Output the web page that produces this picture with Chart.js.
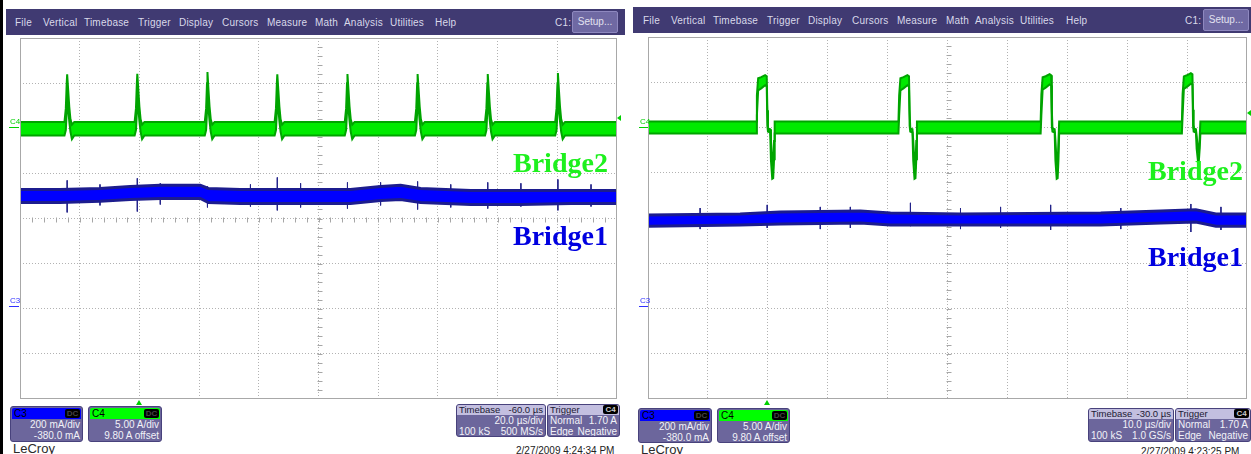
<!DOCTYPE html>
<html>
<head>
<meta charset="utf-8">
<script src="https://cdn.jsdelivr.net/npm/chart.js@4.4.1/dist/chart.umd.min.js"></script>
<style>
  html, body { margin: 0; padding: 0; background: #fff; }
  body { width: 1251px; height: 454px; position: relative; overflow: hidden;
         font-family: "Liberation Sans", Arial, sans-serif; }
  .abs { position: absolute; }
  .menubar { position: absolute; background: #403a72; height: 26px; }
  .menubar span { position: absolute; top: 1px; line-height: 26px; font-size: 10px;
                  color: #d9d9ea; white-space: nowrap; letter-spacing: 0.2px; }
  .setup { position: absolute; background: #6f69a3; border: 1px solid #8e88bf; border-radius: 2px;
           box-sizing: border-box; color: #e2e2f0; font-size: 10px; text-align: center; }
  .chbox, .tbox { position: absolute; background: #6c669c; border: 1px solid #48427c; border-radius: 3px;
                  box-sizing: border-box; overflow: hidden; font-size: 10px; color: #f2f2f8; }
  .chhead { height: 11px; position: relative; margin: 1px 1px 0 1px; border-radius: 2px 2px 0 0; }
  .chname { position: absolute; left: 2px; top: 0; line-height: 11px; color: #000; font-size: 10px; }
  .badge { position: absolute; right: 1px; top: 1px; width: 15px; height: 9px; background: #000;
           border-radius: 2px; color: #444; font-size: 8px; line-height: 9px; text-align: center; font-weight: bold; }
  .row { height: 11px; line-height: 11px; padding: 0 2px; white-space: nowrap; }
  .r { text-align: right; }
  .split { display: flex; justify-content: space-between; }
  .thead { display: flex; justify-content: space-between; background: #c3bfe0; color: #1c1a34;
           height: 10px; line-height: 10px; padding: 0 2px; position: relative; white-space: nowrap;
           font-size: 9.5px; }
  .bridge { position: absolute; font-family: "Liberation Serif", "Times New Roman", serif; font-weight: bold;
            font-size: 28px; line-height: 28px; white-space: nowrap; }
  .mk { position: absolute; font-size: 8px; line-height: 8px; }
  .tri-up { position: absolute; width: 0; height: 0; border-left: 3px solid transparent;
            border-right: 3px solid transparent; border-bottom: 5px solid #00d000; }
  .tri-left { position: absolute; width: 0; height: 0; border-top: 3px solid transparent;
              border-bottom: 3px solid transparent; border-right: 4px solid #00d000; }
  .foot { position: absolute; font-size: 10px; line-height: 10px; color: #222; white-space: nowrap; }
  .brand { position: absolute; font-size: 13px; line-height: 13px; color: #2a2a2a; }
</style>
</head>
<body>
<div class="abs" style="left:0;top:0;width:3px;height:454px;background:#000"></div>

<canvas id="scopeL" width="597" height="361" style="position:absolute;left:20px;top:38px"></canvas>
<canvas id="scopeR" width="599" height="362" style="position:absolute;left:648px;top:37px"></canvas>

<!-- channel tags on the left edge of each screen -->
<div class="mk" style="left:10px;top:118px;color:#00d000">C4</div>
<div class="abs" style="left:9px;top:127px;width:10px;height:1px;background:#00d000"></div>
<div class="mk" style="left:10px;top:297px;color:#3030ff">C3</div>
<div class="abs" style="left:9px;top:306px;width:10px;height:1px;background:#3030ff"></div>
<div class="mk" style="left:640px;top:118px;color:#00d000">C4</div>
<div class="abs" style="left:639px;top:127px;width:9px;height:1px;background:#00d000"></div>
<div class="mk" style="left:640px;top:297px;color:#3030ff">C3</div>
<div class="abs" style="left:639px;top:306px;width:9px;height:1px;background:#3030ff"></div>

<!-- trigger position / level markers -->
<div class="tri-up" style="left:136px;top:400px"></div>
<div class="tri-up" style="left:764px;top:400px"></div>
<div class="tri-left" style="left:617px;top:115px"></div>
<div class="tri-left" style="left:1247px;top:110px"></div>

<!-- trace names -->
<div class="bridge" style="left:513px;top:149px;color:#1ef01e">Bridge2</div>
<div class="bridge" style="left:513px;top:222px;color:#0000e0">Bridge1</div>
<div class="bridge" style="left:1148px;top:157px;color:#1ef01e">Bridge2</div>
<div class="bridge" style="left:1148px;top:243px;color:#0000e0">Bridge1</div>

<!-- left screen readouts -->
<div class="chbox" style="left:10px;top:406px;width:73px;height:36px">
  <div class="chhead" style="background:#0000ff"><span class="chname">C3</span><span class="badge">DC</span></div>
  <div class="row r">200 mA/div</div>
  <div class="row r">-380.0 mA</div>
</div>
<div class="chbox" style="left:88px;top:406px;width:74px;height:36px">
  <div class="chhead" style="background:#00ff00"><span class="chname">C4</span><span class="badge">DC</span></div>
  <div class="row r">5.00 A/div</div>
  <div class="row r">9.80 A offset</div>
</div>
<div class="tbox" style="left:456px;top:404px;width:90px;height:33px">
  <div class="thead"><span>Timebase</span><span>-60.0 µs</span></div>
  <div class="row r">20.0 µs/div</div>
  <div class="row split"><span>100 kS</span><span>500 MS/s</span></div>
</div>
<div class="tbox" style="left:547px;top:404px;width:73px;height:33px">
  <div class="thead"><span>Trigger</span><span class="badge" style="top:0;color:#ccc">C4</span></div>
  <div class="row split"><span>Normal</span><span>1.70 A</span></div>
  <div class="row split"><span>Edge</span><span>Negative</span></div>
</div>
<div class="brand" style="left:13px;top:442px">LeCroy</div>
<div class="foot" style="left:516px;top:446px">2/27/2009 4:24:34 PM</div>

<!-- right screen readouts -->
<div class="chbox" style="left:638px;top:408px;width:74px;height:35px">
  <div class="chhead" style="background:#0000ff"><span class="chname">C3</span><span class="badge">DC</span></div>
  <div class="row r">200 mA/div</div>
  <div class="row r">-380.0 mA</div>
</div>
<div class="chbox" style="left:717px;top:408px;width:73px;height:35px">
  <div class="chhead" style="background:#00ff00"><span class="chname">C4</span><span class="badge">DC</span></div>
  <div class="row r">5.00 A/div</div>
  <div class="row r">9.80 A offset</div>
</div>
<div class="tbox" style="left:1088px;top:408px;width:86px;height:34px">
  <div class="thead"><span>Timebase</span><span>-30.0 µs</span></div>
  <div class="row r">10.0 µs/div</div>
  <div class="row split"><span>100 kS</span><span>1.0 GS/s</span></div>
</div>
<div class="tbox" style="left:1175px;top:408px;width:76px;height:34px">
  <div class="thead"><span>Trigger</span><span class="badge" style="top:0;color:#ccc">C4</span></div>
  <div class="row split"><span>Normal</span><span>1.70 A</span></div>
  <div class="row split"><span>Edge</span><span>Negative</span></div>
</div>
<div class="brand" style="left:641px;top:443px">LeCroy</div>
<div class="foot" style="left:1141px;top:447px">2/27/2009 4:23:25 PM</div>

<script>
// ---------------- Left capture: 20 µs/div, C4 in A (5 A/div), C3 in mA (200 mA/div) ----------------
const L_X_MAX = 200, L_X_STEP = 20;
const L_G_PULSE_T    = [15.8, 39.3, 62.8, 86.2, 109.7, 133.2, 156.7, 180.2];
const L_G_PULSE_PEAK = [5.97, 6.03, 6.22, 5.97, 6.0, 6.0, 6.0, 6.11];
const L_G_BASE_HI = 0.7, L_G_BASE_LO = -0.8;
// outline of one current spike: µs offset from the peak, upper / lower edge in A (null = that spike's peak)
const L_G_SHAPE_DT = [-0.9, -0.45, -0.15, 0, 0.35, 0.7, 1.1, 1.6, 2.4];
const L_G_SHAPE_HI = [0.7, 2.2, 5.0, null, 4.2, 2.4, 1.0, 0.4, 0.7];
const L_G_SHAPE_LO = [-0.8, -0.2, 1.8, 4.3, 2.2, 0.8, -0.4, -1.2, -0.8];

const L_B_T  = [0, 13.4, 26.8, 36.9, 47.0, 60.4, 63.1, 73.8, 94.0, 110.7, 120.8, 127.5, 134.2, 151.0, 167.8, 184.6, 200];
const L_B_HI = [529, 529, 533, 542, 547, 547, 533, 529, 529, 529, 542, 547, 533, 524, 524, 524, 524];
const L_B_LO = [471, 471, 476, 484, 489, 489, 471, 467, 467, 467, 480, 484, 471, 462, 462, 467, 467];
const L_B_SPIKE_T   = [15.8, 26.8, 39.3, 47.0, 62.8, 77.2, 86.2, 94.0, 109.7, 120.8, 133.2, 144.3, 156.7, 167.8, 180.2, 191.3];
const L_B_SPIKE_TOP = [569, 551, 578, 556, 542, 551, 582, 556, 560, 560, 564, 551, 560, 556, 573, 551];
const L_B_SPIKE_BOT = [427, 458, 431, 462, 449, 453, 436, 449, 444, 458, 440, 449, 444, 453, 436, 453];

// ---------------- Right capture: 10 µs/div ----------------
const R_X_MAX = 100, R_X_STEP = 10;
const R_G_PULSE_T   = [18.06, 41.81, 65.55, 89.13];
const R_G_PULSE_TOP = [5.78, 5.78, 5.89, 6.0];
const R_G_PULSE_DIP = [-5.67, -5.67, -5.67, -3.67];
const R_G_BASE_HI = 0.67, R_G_BASE_LO = -0.67;
// outline of one positive/negative pulse pair for a 5.78 A top and a -5.67 A dip
const R_G_SHAPE_DT = [-0.17, 0, 0.12, 0.33, 0.84, 1.5, 1.76, 1.87, 1.97, 2.34, 2.47, 2.68, 2.84, 2.98, 3.09];
const R_G_SHAPE_HI = [0.67, 0.67, 3.56, 5.44, 5.56, 5.78, 5.67, 1.9, -0.1, -0.2, -1.44, -4.0, -4.2, -1.5, 0.67];
const R_G_SHAPE_LO = [-0.67, -0.67, 1.33, 4.11, 4.33, 4.67, 4.56, 0.2, -0.45, -0.55, -3.67, -5.67, -5.6, -3.5, -0.67];
const R_G_REF_TOP = 5.78, R_G_REF_DIP = -5.67;

const R_B_T  = [0, 15.38, 22.07, 35.45, 40.47, 52.17, 75.58, 85.61, 91.46, 94.81, 100];
const R_B_HI = [413, 418, 427, 431, 422, 418, 422, 431, 436, 418, 418];
const R_B_LO = [364, 369, 373, 378, 369, 369, 369, 378, 382, 364, 364];
const R_B_SPIKE_T   = [8.70, 19.9, 28.76, 33.78, 43.81, 52.17, 58.86, 67.22, 78.93, 90.63, 95.65];
const R_B_SPIKE_TOP = [444, 458, 449, 449, 467, 444, 449, 458, 444, 462, 449];
const R_B_SPIKE_BOT = [351, 356, 351, 356, 364, 351, 356, 347, 351, 338, 347];

// vertical ranges: 8 divisions; C4 ground 2 div above centre, C3 ground 2 div below
const G_MIN = -30, G_MAX = 10, G_STEP = 5;
const B_MIN = -400, B_MAX = 1200;

const GREEN_FILL = '#00ea00', GREEN_EDGE = '#00a400';
const BLUE_FILL = '#0000ff', BLUE_EDGE = '#1c1c8e', BLUE_SPIKE = '#24248a';

function leftGreenOutline() {
  const pts = [{ x: 0, hi: L_G_BASE_HI, lo: L_G_BASE_LO }];
  L_G_PULSE_T.forEach((t0, k) => {
    L_G_SHAPE_DT.forEach((dt, i) => {
      const hi = L_G_SHAPE_HI[i] === null ? L_G_PULSE_PEAK[k] : L_G_SHAPE_HI[i];
      pts.push({ x: t0 + dt, hi: hi, lo: L_G_SHAPE_LO[i] });
    });
  });
  pts.push({ x: L_X_MAX, hi: L_G_BASE_HI, lo: L_G_BASE_LO });
  return pts;
}

function rightGreenOutline() {
  const scale = (v, k) => v > 1 ? v * R_G_PULSE_TOP[k] / R_G_REF_TOP
                        : v < -1 ? v * R_G_PULSE_DIP[k] / R_G_REF_DIP : v;
  const pts = [{ x: 0, hi: R_G_BASE_HI, lo: R_G_BASE_LO }];
  R_G_PULSE_T.forEach((t0, k) => {
    R_G_SHAPE_DT.forEach((dt, i) => {
      pts.push({ x: t0 + dt, hi: scale(R_G_SHAPE_HI[i], k), lo: scale(R_G_SHAPE_LO[i], k) });
    });
  });
  pts.push({ x: R_X_MAX, hi: R_G_BASE_HI, lo: R_G_BASE_LO });
  return pts;
}

function zipBand(t, hi, lo) { return t.map((x, i) => ({ x: x, hi: hi[i], lo: lo[i] })); }

function bandDatasets(pts, fill, edge, axis, order, width) {
  const common = { yAxisID: axis, borderColor: edge, borderWidth: width, pointRadius: 0,
                   tension: 0, order: order, borderJoinStyle: 'miter' };
  return [
    Object.assign({ data: pts.map(p => ({ x: p.x, y: p.hi })), fill: false }, common),
    Object.assign({ data: pts.map(p => ({ x: p.x, y: p.lo })), fill: '-1', backgroundColor: fill }, common)
  ];
}

function spikeDataset(t, top, bot, color, axis, order) {
  const data = [];
  t.forEach((x, i) => { data.push({ x: x, y: top[i] }, { x: x, y: bot[i] }, { x: x, y: null }); });
  return { data: data, yAxisID: axis, borderColor: color, borderWidth: 1, pointRadius: 0,
           spanGaps: false, fill: false, order: order };
}

// dotted graticule frame, plus the minor ticks on the two centre lines
const scopeGraticule = {
  id: 'scopeGraticule',
  beforeDatasetsDraw(chart) {
    const { ctx, scales } = chart;
    const xs = scales.x, ys = scales.yA;
    const cx = Math.round(xs.getPixelForValue((xs.min + xs.max) / 2)) + 0.5;
    const cy = Math.round(ys.getPixelForValue((ys.min + ys.max) / 2)) + 0.5;
    const xStep = xs.options.ticks.stepSize / 5, yStep = ys.options.ticks.stepSize / 5;
    ctx.save();
    ctx.strokeStyle = '#a6a6a6';
    ctx.lineWidth = 1;
    ctx.beginPath();
    for (let v = xs.min + xStep; v < xs.max - 1e-9; v += xStep) {
      const px = Math.round(xs.getPixelForValue(v)) + 0.5;
      ctx.moveTo(px, cy - 2); ctx.lineTo(px, cy + 3);
    }
    for (let v = ys.min + yStep; v < ys.max - 1e-9; v += yStep) {
      const py = Math.round(ys.getPixelForValue(v)) + 0.5;
      ctx.moveTo(cx - 2, py); ctx.lineTo(cx + 3, py);
    }
    ctx.stroke();
    ctx.restore();
  },
  afterDraw(chart) {
    const { ctx, chartArea: a } = chart;
    ctx.save();
    ctx.strokeStyle = '#a8a8a8';
    ctx.lineWidth = 1;
    ctx.strokeRect(a.left + 0.5, a.top + 0.5, a.right - a.left - 1, a.bottom - a.top - 1);
    ctx.restore();
  }
};

function makeScope(id, xMax, xStep, datasets) {
  return new Chart(document.getElementById(id), {
    type: 'line',
    data: { datasets: datasets },
    options: {
      responsive: false,
      animation: false,
      events: [],
      layout: { padding: 0 },
      plugins: { legend: { display: false }, tooltip: { enabled: false } },
      scales: {
        x: { type: 'linear', min: 0, max: xMax,
             ticks: { display: false, stepSize: xStep },
             grid: { color: '#b2b2b2', drawTicks: false, lineWidth: 1 },
             border: { display: false, dash: [1, 2] } },
        yA: { type: 'linear', position: 'left', min: G_MIN, max: G_MAX,
              ticks: { display: false, stepSize: G_STEP },
              grid: { color: '#b2b2b2', drawTicks: false, lineWidth: 1 },
              border: { display: false, dash: [1, 2] } },
        yB: { type: 'linear', display: false, min: B_MIN, max: B_MAX }
      }
    },
    plugins: [scopeGraticule]
  });
}

makeScope('scopeL', L_X_MAX, L_X_STEP, [
  spikeDataset(L_B_SPIKE_T, L_B_SPIKE_TOP, L_B_SPIKE_BOT, BLUE_SPIKE, 'yB', 4),
  ...bandDatasets(zipBand(L_B_T, L_B_HI, L_B_LO), BLUE_FILL, BLUE_EDGE, 'yB', 3, 3),
  ...bandDatasets(leftGreenOutline(), GREEN_FILL, GREEN_EDGE, 'yA', 1, 2)
]);

makeScope('scopeR', R_X_MAX, R_X_STEP, [
  spikeDataset(R_B_SPIKE_T, R_B_SPIKE_TOP, R_B_SPIKE_BOT, BLUE_SPIKE, 'yB', 4),
  ...bandDatasets(zipBand(R_B_T, R_B_HI, R_B_LO), BLUE_FILL, BLUE_EDGE, 'yB', 3, 3),
  ...bandDatasets(rightGreenOutline(), GREEN_FILL, GREEN_EDGE, 'yA', 1, 2)
]);

// instrument menu bars
const MENU_ITEMS = ['File', 'Vertical', 'Timebase', 'Trigger', 'Display', 'Cursors', 'Measure',
                    'Math', 'Analysis', 'Utilities', 'Help', 'C1:'];
function menuBar(left, top, width, itemX, setupX, setupTop) {
  const bar = document.createElement('div');
  bar.className = 'menubar';
  bar.style.left = left + 'px'; bar.style.top = top + 'px'; bar.style.width = width + 'px';
  MENU_ITEMS.forEach((label, i) => {
    const s = document.createElement('span');
    s.textContent = label;
    s.style.left = (itemX[i] - left) + 'px';
    bar.appendChild(s);
  });
  document.body.appendChild(bar);
  const b = document.createElement('div');
  b.className = 'setup';
  b.textContent = 'Setup...';
  b.style.cssText = 'left:' + setupX + 'px;top:' + setupTop + 'px;width:46px;height:22px;line-height:20px;';
  document.body.appendChild(b);
}
menuBar(6, 9, 619, [15, 43, 84, 138, 179, 222, 267, 315, 344, 390, 435, 555], 572, 11);
menuBar(633, 7, 618, [643, 671, 713, 767, 808, 852, 897, 946, 975, 1020, 1066, 1185], 1203, 9);
</script>
</body>
</html>
